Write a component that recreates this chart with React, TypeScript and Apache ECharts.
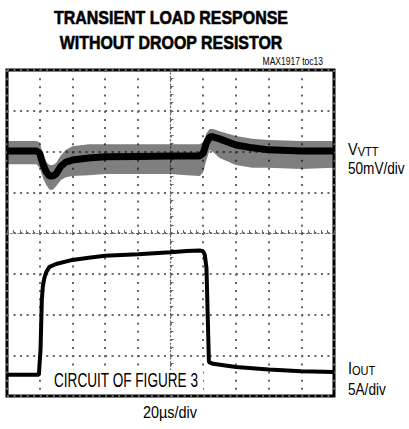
import React, { useEffect, useRef } from "react";
import * as echarts from "echarts";

// Time relative to screen centre, µs (20 µs/div)
const vvttTime = [-100, -90, -82, -80, -78, -76, -74, -72, -70, -67, -64, -60, -50, -40, -20, 0, 10, 18, 20, 22, 24, 26, 30, 40, 50, 60, 80, 100];
// VVTT trace, screen divisions (50 mV/div)
const vvttCore = [2.01, 2.01, 2.01, 1.96, 1.69, 1.50, 1.40, 1.40, 1.45, 1.64, 1.74, 1.79, 1.84, 1.87, 1.88, 1.89, 1.89, 1.89, 1.96, 2.21, 2.36, 2.36, 2.31, 2.16, 2.09, 2.04, 2.01, 2.01];
const vvttUpper = [2.26, 2.26, 2.26, 2.22, 1.94, 1.74, 1.67, 1.67, 1.72, 1.91, 2.04, 2.13, 2.18, 2.18, 2.18, 2.18, 2.18, 2.18, 2.23, 2.45, 2.55, 2.55, 2.50, 2.38, 2.31, 2.28, 2.26, 2.26];
const vvttLower = [1.69, 1.69, 1.69, 1.60, 1.35, 1.18, 1.06, 1.06, 1.15, 1.30, 1.37, 1.40, 1.42, 1.45, 1.45, 1.45, 1.42, 1.40, 1.50, 1.79, 2.04, 1.99, 1.84, 1.67, 1.60, 1.60, 1.57, 1.60];

// IOUT trace, screen divisions (5 A/div)
const ioutTime = [-100, -90, -80.5, -79.5, -78.7, -78, -77, -76, -74, -70, -60, -50, -40, -20, 0, 10, 18, 20, 21, 22, 23.5, 26, 40, 60, 80, 100];
const ioutCore = [-3.48, -3.48, -3.48, -2.87, -1.64, -1.28, -1.08, -0.96, -0.83, -0.76, -0.66, -0.61, -0.56, -0.52, -0.47, -0.44, -0.43, -0.45, -0.54, -0.86, -3.17, -3.21, -3.29, -3.35, -3.39, -3.41];

const titleLines = ["TRANSIENT LOAD RESPONSE", "WITHOUT DROOP RESISTOR"];

export default function App() {
  const ref = useRef<HTMLDivElement>(null);
  useEffect(() => {
    if (!ref.current) return;
    const chart = echarts.init(ref.current, undefined, { renderer: "svg" });
    const font = "'Liberation Sans Narrow', 'Liberation Sans', Arial, sans-serif";
    const band = (times: number[], up: number[], lo: number[]) => ({
      type: "custom",
      silent: true,
      clip: true,
      z: 3,
      data: [0],
      renderItem: (params: any, api: any) => {
        const pts: number[][] = [];
        for (let i = 0; i < times.length; i++) pts.push(api.coord([times[i], up[i]]));
        for (let i = times.length - 1; i >= 0; i--) pts.push(api.coord([times[i], lo[i]]));
        return { type: "polygon", shape: { points: pts }, style: { fill: "rgba(0,0,0,0.5)" } };
      },
    });
    const dotColor = "#666";
    chart.setOption({
      animation: false,
      grid: { left: 7, top: 70, width: 327, height: 326, show: true, borderColor: "#000", borderWidth: 3, backgroundColor: "#fff", z: 0 },
      xAxis: {
        type: "value", min: -100, max: 100, interval: 20,
        axisLine: { show: true, onZero: true, lineStyle: { color: dotColor, width: 1.2, type: [1.2, 2.5] } },
        axisTick: { show: true, inside: true, length: 3, lineStyle: { color: dotColor } },
        minorTick: { show: true, splitNumber: 5, length: 3, lineStyle: { color: dotColor } },
        axisLabel: { show: false },
        splitLine: { show: true, lineStyle: { color: dotColor, width: 2, type: [2, 6.15] } },
      },
      yAxis: {
        type: "value", min: -4, max: 4, interval: 1,
        axisLine: { show: true, onZero: true, lineStyle: { color: dotColor, width: 1.2, type: [1.2, 2.5] } },
        axisTick: { show: true, inside: true, length: 3, lineStyle: { color: dotColor } },
        minorTick: { show: true, splitNumber: 5, length: 3, lineStyle: { color: dotColor } },
        axisLabel: { show: false },
        splitLine: { show: true, lineStyle: { color: dotColor, width: 2, type: [2, 4.54] } },
      },
      series: [
        band(vvttTime, vvttUpper, vvttLower),
        {
          type: "line", name: "VVTT", data: vvttTime.map((t, i) => [t, vvttCore[i]]),
          showSymbol: false, z: 4, lineStyle: { color: "#000", width: 7 },
        },
        {
          type: "line", name: "IOUT", data: ioutTime.map((t, i) => [t, ioutCore[i]]),
          showSymbol: false, z: 4, lineStyle: { color: "#000", width: 4 },
        },
      ],
      graphic: [
        { type: "text", x: 171, y: 8, scaleX: 0.84, style: { text: titleLines[0], fontFamily: "'Liberation Sans', Arial, sans-serif", fontWeight: 900, fontSize: 19, fill: "#000", textAlign: "center", stroke: "#000", lineWidth: 0.6 } },
        { type: "text", x: 171, y: 33, scaleX: 0.84, style: { text: titleLines[1], fontFamily: "'Liberation Sans', Arial, sans-serif", fontWeight: 900, fontSize: 19, fill: "#000", textAlign: "center", stroke: "#000", lineWidth: 0.6 } },
        { type: "text", x: 323, y: 57, scaleX: 0.85, style: { text: "MAX1917 toc13", fontFamily: font, fontSize: 10, fill: "#000", textAlign: "right" } },
        { type: "text", x: 348, y: 141, scaleX: 0.85, style: { text: "{a|V}{b|VTT}", fontFamily: font, fill: "#000", rich: { a: { fontSize: 17, fontFamily: font }, b: { fontSize: 13, fontFamily: font, verticalAlign: "bottom", padding: [4, 0, 0, 0] } } } },
        { type: "text", x: 348, y: 161, scaleX: 0.85, style: { text: "50mV/div", fontFamily: font, fontSize: 16, fill: "#000" } },
        { type: "text", x: 348, y: 360, scaleX: 0.85, style: { text: "{a|I}{b|OUT}", fontFamily: font, fill: "#000", rich: { a: { fontSize: 17, fontFamily: font }, b: { fontSize: 13, fontFamily: font, verticalAlign: "bottom", padding: [4, 0, 0, 0] } } } },
        { type: "text", x: 348, y: 382, scaleX: 0.85, style: { text: "5A/div", fontFamily: font, fontSize: 16, fill: "#000" } },
        { type: "rect", z: 10, shape: { x: 50, y: 370, width: 153, height: 24 }, style: { fill: "#fff" } },
        { type: "text", z: 11, x: 126, y: 371, scaleX: 0.68, style: { text: "CIRCUIT OF FIGURE 3", fontFamily: font, fontSize: 20, fill: "#000", textAlign: "center" } },
        { type: "text", x: 170, y: 404, scaleX: 0.85, style: { text: "20µs/div", fontFamily: font, fontSize: 17, fill: "#000", textAlign: "center" } },
      ],
    });
    return () => chart.dispose();
  }, []);
  return <div ref={ref} style={{ position: "fixed", left: 0, top: 0, width: 409, height: 429, background: "#fff" }} />;
}
